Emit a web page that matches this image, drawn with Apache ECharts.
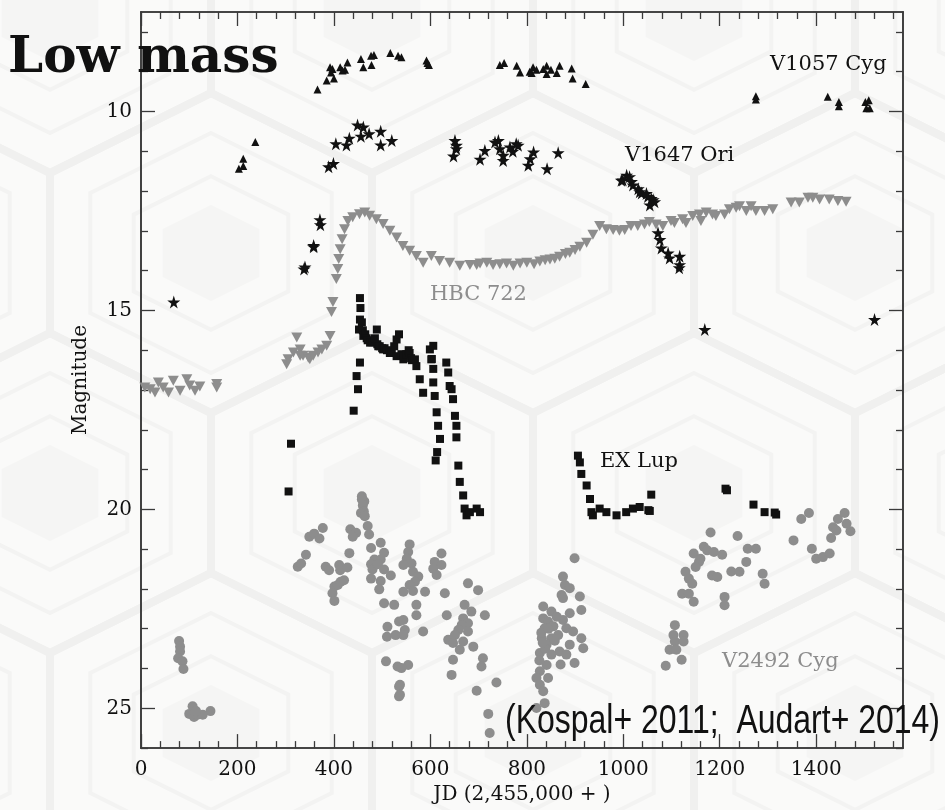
<!DOCTYPE html>
<html>
<head>
<meta charset="utf-8">
<script src="https://cdn.jsdelivr.net/npm/echarts@6/dist/echarts.min.js"></script>
<style>
  html, body { margin: 0; padding: 0; background: #fafaf9; }
  #chart { width: 945px; height: 810px; }
</style>
</head>
<body>
<div id="chart"></div>
<script>
// ---- axis ranges and tick labels ----
const X_RANGE = [0, 1580];
const Y_RANGE = [7.5, 26];
const xTickLabels = [0, 200, 400, 600, 800, 1000, 1200, 1400];
const yTickLabels = [10, 15, 20, 25];
const X_MINOR = 40;
const Y_MINOR = 1;

// ---- light curves: [JD - 2455000, magnitude] ----
const v1057Cyg = [
  [203,11.44],[212,11.37],[212,11.19],[237,10.77],
  [366,9.45],[385,9.22],[400,9.17],[394,9.02],[397,8.93],[392,8.89],
  [413,8.89],[423,8.95],[428,8.77],[418,8.97],
  [456,8.68],[461,8.89],[477,8.60],[483,8.58],[478,8.83],
  [517,8.53],[533,8.60],[540,8.64],
  [592,8.72],[597,8.83],[594,8.78],
  [744,8.83],[753,8.78],[779,8.85],[786,9.02],
  [806,9.00],[813,8.89],[810,9.03],[820,8.95],[834,8.93],[841,8.85],[841,9.06],[850,8.95],
  [862,9.03],[868,8.85],[893,8.92],[895,9.17],[922,9.31],
  [1275,9.62],[1275,9.70],[1424,9.63],[1447,9.76],[1447,9.87],
  [1502,9.76],[1509,9.72],[1504,9.92],[1511,9.92]
];

const v1647Ori = [
  [68,14.79],
  [338,13.96],[340,13.91],[358,13.37],[358,13.40],[371,12.72],[372,12.85],
  [389,11.39],[399,11.31],
  [404,10.81],[426,10.84],[432,10.67],[449,10.34],[461,10.39],[456,10.62],[473,10.56],
  [497,10.50],[497,10.84],[520,10.73],
  [651,10.73],[654,10.85],[654,10.94],[648,11.12],
  [703,11.20],[713,10.98],[734,10.77],[741,10.73],[744,10.94],[751,11.10],[751,11.23],
  [765,10.89],[771,11.00],[778,10.81],[782,10.85],[803,11.35],[807,11.19],[814,11.02],
  [842,11.44],[865,11.04],
  [996,11.73],[999,11.72],[1007,11.60],[1013,11.64],[1017,11.76],[1020,11.85],[1031,11.94],
  [1034,12.02],[1038,12.05],[1048,12.06],[1051,12.14],[1058,12.19],[1062,12.22],[1055,12.35],[1065,12.27],
  [1072,13.05],[1076,13.22],[1079,13.43],[1093,13.56],[1096,13.68],[1117,13.64],[1117,13.85],[1116,13.93],
  [1169,15.48],[1521,15.23]
];

const hbc722 = [
  [8,16.94],[19,16.98],[29,17.06],[36,16.81],[46,16.94],[57,17.06],[67,16.77],
  [81,17.02],[95,16.73],[101,16.89],[112,17.02],[122,16.91],[157,16.85],[157,16.94],
  [302,16.35],[305,16.23],[316,16.06],[323,15.68],[330,15.98],[330,16.14],[336,16.14],
  [347,16.19],[350,16.23],[357,16.14],[367,16.06],[375,15.98],[385,15.89],[392,15.64],
  [395,15.04],[398,14.79],[405,14.21],[408,13.96],[410,13.71],[413,13.46],[417,13.21],
  [422,12.96],[429,12.75],[439,12.66],[453,12.58],[464,12.54],[474,12.62],[488,12.71],
  [502,12.83],[516,13.00],[530,13.17],[543,13.38],[557,13.50],[571,13.63],[585,13.80],
  [602,13.63],[619,13.76],[640,13.80],[661,13.88],[682,13.86],[696,13.86],
  [703,13.82],[717,13.80],[730,13.86],[744,13.84],[758,13.82],[772,13.88],[786,13.82],
  [800,13.80],[815,13.84],[827,13.77],[838,13.74],[848,13.72],[858,13.70],[868,13.65],
  [880,13.58],[889,13.55],[900,13.48],[910,13.40],[924,13.30],[937,13.10],
  [951,12.88],[965,12.96],[979,12.98],[992,13.00],[1003,12.98],[1016,12.88],[1030,12.88],
  [1044,12.84],[1054,12.78],[1068,12.84],[1082,12.88],[1099,12.75],[1106,12.80],[1123,12.71],
  [1130,12.80],[1144,12.63],[1158,12.59],[1161,12.75],[1172,12.54],[1185,12.59],[1192,12.63],
  [1210,12.59],[1220,12.46],[1234,12.42],[1241,12.38],[1255,12.50],[1265,12.38],[1275,12.50],
  [1293,12.50],[1310,12.46],[1348,12.29],[1365,12.29],[1383,12.17],[1393,12.17],[1407,12.21],
  [1427,12.21],[1445,12.25],[1462,12.27]
];

const exLup = [
  [306,19.55],[311,18.35],
  [441,17.52],[447,16.65],[450,16.98],[454,16.31],
  [454,14.69],[455,14.94],[454,15.23],[452,15.48],[458,15.30],[460,15.50],[461,15.64],[465,15.60],
  [468,15.70],[470,15.75],[475,15.81],[480,15.80],[485,15.70],[489,15.48],[490,15.85],[492,15.90],
  [495,15.90],[500,15.95],[502,15.98],[505,15.95],[510,16.00],[516,16.07],[520,16.05],[525,15.90],
  [530,15.73],[530,16.15],[535,15.60],[540,16.10],[544,16.23],[545,16.15],[550,16.10],[555,16.00],
  [557,16.07],[560,16.20],[562,16.25],[568,16.23],[571,16.40],[578,16.73],[585,17.07],
  [599,15.98],[602,16.23],[606,15.89],[603,16.22],[606,16.47],[606,16.81],[609,17.15],[613,17.56],
  [616,17.90],[620,18.23],[614,18.56],[611,18.77],
  [633,16.31],[637,16.56],[640,16.90],[644,16.98],[647,17.23],[651,17.65],[654,17.90],[654,18.19],
  [658,18.90],[661,19.31],[668,19.65],[671,19.98],[675,20.15],[682,20.07],[696,19.98],[703,20.07],
  [906,18.65],[910,18.82],[913,19.11],[924,19.40],[931,19.74],[934,20.07],[937,20.15],[951,19.98],
  [965,20.07],[986,20.15],[1006,20.07],[1020,19.98],[1034,19.94],[1052,20.02],[1055,20.04],[1058,19.63],
  [1212,19.48],[1215,19.52],[1270,19.88],[1293,20.07],[1314,20.08],[1317,20.13]
];

const v2492Cyg = [
  [79,23.31],[81,23.45],[81,23.57],[77,23.74],[86,23.82],[88,24.01],
  [107,24.95],[100,25.14],[110,25.22],[117,25.16],[128,25.16],[144,25.07],[114,25.07],
  [325,21.44],[332,21.36],[342,21.14],[349,20.69],[359,20.61],[370,20.73],[377,20.47],
  [383,21.44],[390,21.53],[411,21.40],[413,21.53],[401,21.94],[408,21.90],[414,21.82],[421,21.78],
  [397,22.11],[401,22.30],
  [432,21.10],[428,21.46],[434,20.50],[446,20.59],[439,20.69],[458,19.67],[463,19.80],[458,19.75],
  [460,19.90],[462,20.05],[456,20.09],[464,20.17],[470,20.42],[473,20.63],[477,20.97],[497,20.84],
  [504,21.09],[497,21.26],[484,21.26],[477,21.38],[480,21.51],[491,21.38],[504,21.51],[518,21.66],
  [477,21.74],[497,21.80],[494,22.01],
  [504,22.36],[525,22.40],[511,22.95],[510,23.20],[528,23.16],[508,23.82],[535,22.82],[532,23.95],
  [535,24.45],[535,24.70],
  [557,20.88],[554,21.07],[551,21.24],[561,21.36],[544,21.40],[564,21.57],[575,21.69],[568,21.82],
  [557,21.90],[544,22.07],[564,22.05],[589,22.07],[571,22.40],[571,22.66],[544,22.78],[547,23.03],
  [544,23.16],[585,23.07],[554,23.91],[540,23.99],[537,24.41],[537,24.66],
  [623,21.11],[609,21.32],[623,21.40],[606,21.49],[613,21.65],[630,22.11],[678,21.86],[699,22.03],
  [671,22.40],[685,22.57],[668,22.74],[634,22.66],[713,22.66],[678,22.86],[665,22.91],[658,23.03],
  [678,23.07],[651,23.16],[637,23.28],[647,23.36],[668,23.32],[661,23.53],[689,23.45],[647,23.78],
  [709,23.74],[706,23.95],[644,24.16],[696,24.56],[737,24.35],[720,25.14],[723,25.62],
  [899,21.23],[875,21.69],[879,21.90],[889,21.98],[872,22.15],[910,22.19],[875,22.23],[834,22.44],
  [851,22.57],[913,22.53],[889,22.61],[834,22.74],[844,22.82],[875,22.78],[855,22.94],[837,22.99],
  [882,22.99],[896,23.07],[865,23.16],[831,23.24],[851,23.24],[913,23.24],[841,23.40],[889,23.40],
  [917,23.49],[868,23.57],[827,23.61],[851,23.65],[882,23.65],[899,23.86],[841,23.91],[827,24.07],
  [820,24.24],[844,24.24],[827,24.41],[834,24.57],[820,24.99],[837,24.87],
  [830,23.10],[838,23.50],[845,23.00],[858,23.30],[862,22.70],[870,23.90],[826,23.80],[833,23.35],
  [1181,20.58],[1237,20.67],[1167,20.94],[1174,21.03],[1146,21.11],[1160,21.24],[1157,21.32],
  [1188,21.07],[1205,21.14],[1150,21.45],[1129,21.57],[1136,21.74],[1143,21.87],[1122,22.12],
  [1136,22.12],[1146,22.32],[1184,21.66],[1195,21.70],[1224,21.56],[1241,21.57],[1255,21.32],
  [1258,20.99],[1275,20.99],[1289,21.62],[1293,21.87],[1210,22.20],[1210,22.41],
  [1107,22.91],[1104,23.16],[1125,23.16],[1107,23.32],[1096,23.53],[1110,23.53],[1125,23.32],
  [1121,23.78],[1088,23.93],
  [1353,20.78],[1369,20.24],[1385,20.09],[1391,20.99],[1400,21.24],[1414,21.20],[1428,21.11],
  [1431,20.72],[1435,20.45],[1445,20.24],[1459,20.09],[1463,20.36],[1471,20.55],[1442,20.53]
];

// ---- styling ----
const INK = '#111111';
const GREY = '#8d8d8d';
const AXIS_COLOR = '#3a3a3a';
const SERIF = '"DejaVu Serif", "Liberation Serif", serif';
const STAR = 'path://M50,0 L61,35 L98,35 L68,57 L79,91 L50,70 L21,91 L32,57 L2,35 L39,35 Z';

// Tick slots: fine positions across each axis; only some of them carry a tick.
const xSlots = [];
for (let v = X_RANGE[0]; v <= X_RANGE[1]; v += 20) xSlots.push(String(v));
const ySlots = [];
for (let v = Y_RANGE[0]; v <= Y_RANGE[1] + 1e-9; v += 0.5) ySlots.push(String(v));

const isMajorX = v => xTickLabels.includes(Number(v));
const isMinorX = v => Number(v) % X_MINOR === 0 && !isMajorX(v);
const isMajorY = v => yTickLabels.includes(Number(v));
const isMinorY = v => Number(v) % Y_MINOR === 0 && !isMajorY(v);

function tickAxis(position, slots, filter, len, label, extra) {
  return Object.assign({
    type: 'category',
    data: slots,
    position: position,
    boundaryGap: false,
    axisLine: { show: true, lineStyle: { color: AXIS_COLOR, width: 1.6 } },
    axisTick: {
      show: true, inside: true, length: len,
      interval: (i, v) => filter(v),
      lineStyle: { color: AXIS_COLOR, width: 1.3 }
    },
    axisLabel: label
      ? Object.assign({ show: true, interval: (i, v) => filter(v), color: INK,
          fontFamily: SERIF, fontSize: 20 }, label)
      : { show: false },
    splitLine: { show: false }
  }, extra || {});
}

function scatter(name, data, symbol, size, color, z, extra) {
  return Object.assign({
    name: name,
    type: 'scatter',
    xAxisIndex: 0,
    yAxisIndex: 0,
    data: data,
    symbol: symbol,
    symbolSize: size,
    itemStyle: { color: color, opacity: 1 },
    z: z,
    silent: true,
    animation: false
  }, extra || {});
}

// ---- faint hexagon wallpaper behind the plot ----
const HEX_W = 322;      // horizontal period of the cells
const HEX_ROW = 240;    // vertical distance between rows
const HEX_R = 160;      // centre-to-top distance
const HEX_ORIGIN = [533, 253];
function hexPoints(cx, cy, s) {
  const hw = HEX_W / 2 * s, r = HEX_R * s, h = HEX_R / 2 * s;
  return [[cx, cy - r], [cx + hw, cy - h], [cx + hw, cy + h],
          [cx, cy + r], [cx - hw, cy + h], [cx - hw, cy - h]];
}
const wallpaper = [];
for (let k = -2; k <= 3; k++) {
  const cy = HEX_ORIGIN[1] + k * HEX_ROW;
  const shift = (k % 2 !== 0) ? HEX_W / 2 : 0;
  for (let m = -3; m <= 3; m++) {
    const cx = HEX_ORIGIN[0] + shift + m * HEX_W;
    if (cx < -200 || cx > 1150) continue;
    wallpaper.push({ type: 'polygon', silent: true, z: -30,
      shape: { points: hexPoints(cx, cy, 0.3) },
      style: { fill: '#f5f5f4', stroke: null } });
    wallpaper.push({ type: 'polygon', silent: true, z: -30,
      shape: { points: hexPoints(cx, cy, 0.48) },
      style: { fill: null, stroke: '#f3f3f2', lineWidth: 4 } });
    wallpaper.push({ type: 'polygon', silent: true, z: -30,
      shape: { points: hexPoints(cx, cy, 0.75) },
      style: { fill: null, stroke: '#f3f3f2', lineWidth: 4 } });
    wallpaper.push({ type: 'polygon', silent: true, z: -30,
      shape: { points: hexPoints(cx, cy, 1.0) },
      style: { fill: null, stroke: '#f0f0ef', lineWidth: 8 } });
  }
}

const chart = echarts.init(document.getElementById('chart'), null, { renderer: 'canvas' });

chart.setOption({
  backgroundColor: '#fafaf9',
  animation: false,
  grid: { left: 141, top: 12, width: 762, height: 738, containLabel: false },
  xAxis: [
    { type: 'value', min: X_RANGE[0], max: X_RANGE[1], show: false },
    tickAxis('bottom', xSlots, isMajorX, 14, { margin: 12 }, {
      name: 'JD (2,455,000 + )', nameLocation: 'middle', nameGap: 32,
      nameTextStyle: { color: INK, fontFamily: SERIF, fontSize: 20 }
    }),
    tickAxis('bottom', xSlots, isMinorX, 7, null),
    tickAxis('top', xSlots, isMajorX, 14, null),
    tickAxis('top', xSlots, isMinorX, 7, null)
  ],
  yAxis: [
    { type: 'value', min: Y_RANGE[0], max: Y_RANGE[1], inverse: true, show: false },
    tickAxis('left', ySlots, isMajorY, 14, { margin: 9 }, {
      inverse: true,
      name: 'Magnitude', nameLocation: 'middle', nameGap: 50, nameRotate: 90,
      nameTextStyle: { color: INK, fontFamily: SERIF, fontSize: 20 }
    }),
    tickAxis('left', ySlots, isMinorY, 7, null, { inverse: true }),
    tickAxis('right', ySlots, isMajorY, 14, null, { inverse: true }),
    tickAxis('right', ySlots, isMinorY, 7, null, { inverse: true })
  ],
  series: [
    scatter('V2492 Cyg', v2492Cyg, 'circle', 10, GREY, 2),
    scatter('HBC 722', hbc722, 'triangle', [11, 10], GREY, 3, { symbolRotate: 180 }),
    scatter('EX Lup', exLup, 'rect', 8, INK, 4),
    scatter('V1647 Ori', v1647Ori, STAR, 13, INK, 5),
    scatter('V1057 Cyg', v1057Cyg, 'triangle', 8, INK, 6)
  ],
  graphic: wallpaper.concat([
    { type: 'text', left: 8, top: 34, z: 100, silent: true,
      style: { text: 'Low mass', fill: INK, font: 'bold 50px ' + SERIF } },
    { type: 'text', x: 770, y: 65, silent: true,
      style: { text: 'V1057 Cyg', fill: INK, font: '21px ' + SERIF, verticalAlign: 'middle' } },
    { type: 'text', x: 625, y: 156, silent: true,
      style: { text: 'V1647 Ori', fill: INK, font: '21px ' + SERIF, verticalAlign: 'middle' } },
    { type: 'text', x: 430, y: 295, silent: true,
      style: { text: 'HBC 722', fill: GREY, font: '21px ' + SERIF, verticalAlign: 'middle' } },
    { type: 'text', x: 600, y: 462, silent: true,
      style: { text: 'EX Lup', fill: INK, font: '21px ' + SERIF, verticalAlign: 'middle' } },
    { type: 'text', x: 722, y: 662, silent: true,
      style: { text: 'V2492 Cyg', fill: GREY, font: '21px ' + SERIF, verticalAlign: 'middle' } },
    { type: 'text', x: 940, y: 722, scaleX: 0.78, z: 100, silent: true,
      style: { text: '(Kospal+ 2011;  Audart+ 2014)', fill: INK,
               font: '41px "Liberation Sans", Arial, sans-serif',
               align: 'right', verticalAlign: 'middle' } }
  ])
});
</script>
</body>
</html>
